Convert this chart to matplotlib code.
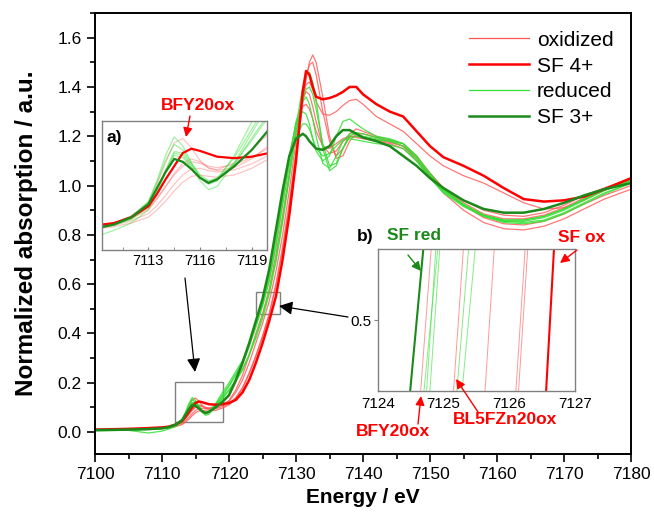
import matplotlib
matplotlib.use("Agg")
import matplotlib.pyplot as plt
from matplotlib.ticker import MultipleLocator, FormatStrFormatter
from matplotlib.patches import Rectangle, FancyArrowPatch

plt.rcParams['font.family'] = ['Liberation Sans', 'DejaVu Sans']

# ---------------- data ----------------
energy = [7100, 7105, 7108, 7110, 7111, 7112,
          7113, 7113.5, 7114, 7114.5, 7115, 7115.5, 7116, 7116.5, 7117,
          7118, 7119, 7120,
          7121, 7122, 7123, 7124, 7125, 7126, 7127, 7128, 7129, 7130, 7131,
          7131.5, 7132, 7132.5, 7133,
          7134, 7135, 7136, 7137, 7138, 7139, 7140,
          7142, 7144, 7146, 7148, 7150, 7152,
          7155, 7158, 7161, 7164, 7167, 7170, 7173, 7176, 7180]

sf3 = [0.008, 0.010, 0.012, 0.015, 0.020, 0.030,
       0.048, 0.070, 0.092, 0.110, 0.106, 0.096, 0.084, 0.077, 0.082,
       0.100, 0.122, 0.150,
       0.21, 0.28, 0.36, 0.45, 0.54, 0.66, 0.82, 0.98, 1.12, 1.19, 1.21,
       1.20, 1.18, 1.165, 1.15,
       1.145, 1.16, 1.20, 1.225, 1.225, 1.21, 1.195,
       1.18, 1.16, 1.12, 1.08, 1.03, 0.99,
       0.94, 0.905, 0.89, 0.89, 0.905, 0.93, 0.96, 0.985, 1.01]

sf4 = [0.010, 0.013, 0.016, 0.019, 0.022, 0.030,
       0.045, 0.062, 0.082, 0.100, 0.118, 0.124, 0.121, 0.117, 0.113,
       0.111, 0.113, 0.118,
       0.13, 0.16, 0.21, 0.28, 0.36, 0.45, 0.55, 0.70, 0.88, 1.10, 1.38,
       1.465, 1.45, 1.40, 1.36,
       1.35, 1.355, 1.365, 1.38, 1.40, 1.40, 1.37,
       1.33, 1.30, 1.28, 1.22, 1.16, 1.115,
       1.08, 1.04, 0.99, 0.945, 0.935, 0.94, 0.955, 0.985, 1.03]

ox1 = [0.010, 0.012, 0.015, 0.018, 0.022, 0.032,
       0.050, 0.075, 0.105, 0.132, 0.138, 0.125, 0.108, 0.097, 0.095,
       0.105, 0.122, 0.145,
       0.20, 0.27, 0.35, 0.44, 0.53, 0.65, 0.80, 0.96, 1.12, 1.25, 1.32,
       1.33, 1.31, 1.27, 1.22,
       1.16, 1.15, 1.17, 1.19, 1.20, 1.195, 1.19,
       1.18, 1.17, 1.15, 1.10, 1.04, 0.99,
       0.94, 0.90, 0.88, 0.875, 0.89, 0.92, 0.96, 0.99, 1.03]

ox2 = [0.008, 0.011, 0.014, 0.017, 0.021, 0.028,
       0.040, 0.055, 0.072, 0.090, 0.104, 0.110, 0.106, 0.098, 0.094,
       0.098, 0.110, 0.128,
       0.17, 0.23, 0.31, 0.40, 0.48, 0.58, 0.72, 0.88, 1.05, 1.22, 1.35,
       1.38, 1.37, 1.32, 1.26,
       1.16, 1.13, 1.14, 1.18, 1.20, 1.20, 1.195,
       1.185, 1.175, 1.16, 1.11, 1.05, 0.99,
       0.93, 0.885, 0.865, 0.865, 0.88, 0.91, 0.95, 0.985, 1.02]

ox3 = [0.009, 0.012, 0.015, 0.018, 0.022, 0.030,
       0.042, 0.056, 0.072, 0.088, 0.100, 0.106, 0.104, 0.100, 0.098,
       0.102, 0.112, 0.125,
       0.16, 0.21, 0.28, 0.36, 0.44, 0.53, 0.65, 0.80, 0.98, 1.18, 1.36,
       1.41, 1.42, 1.39, 1.34,
       1.29, 1.285, 1.30, 1.325, 1.345, 1.35, 1.33,
       1.28, 1.25, 1.22, 1.17, 1.12, 1.08,
       1.04, 1.01, 0.97, 0.93, 0.905, 0.91, 0.94, 0.98, 1.02]

ox4 = [0.008, 0.010, 0.013, 0.016, 0.019, 0.025,
       0.035, 0.046, 0.060, 0.075, 0.088, 0.096, 0.097, 0.094, 0.092,
       0.095, 0.103, 0.115,
       0.14, 0.18, 0.24, 0.31, 0.39, 0.48, 0.60, 0.75, 0.93, 1.14, 1.35,
       1.44, 1.49, 1.50, 1.45,
       1.30, 1.18, 1.12, 1.15, 1.21, 1.23, 1.22,
       1.20, 1.185, 1.17, 1.12, 1.05, 0.99,
       0.92, 0.87, 0.845, 0.84, 0.855, 0.885, 0.925, 0.96, 1.00]

ox5 = [0.007, 0.009, 0.012, 0.014, 0.017, 0.022,
       0.030, 0.040, 0.052, 0.066, 0.078, 0.086, 0.088, 0.086, 0.085,
       0.088, 0.097, 0.110,
       0.135, 0.175, 0.235, 0.305, 0.385, 0.475, 0.59, 0.74, 0.92, 1.12, 1.33,
       1.43, 1.50, 1.53, 1.50,
       1.36, 1.20, 1.11, 1.12, 1.18, 1.21, 1.21,
       1.195, 1.18, 1.16, 1.11, 1.04, 0.97,
       0.90, 0.85, 0.825, 0.82, 0.835, 0.865, 0.905, 0.945, 0.985]

red1 = [0.006, 0.008, 0.010, 0.014, 0.019, 0.028,
        0.050, 0.080, 0.115, 0.140, 0.128, 0.105, 0.085, 0.075, 0.080,
        0.115, 0.160, 0.200,
        0.245, 0.29, 0.355, 0.435, 0.52, 0.63, 0.78, 0.95, 1.12, 1.25, 1.30,
        1.29, 1.25, 1.19, 1.14,
        1.10, 1.12, 1.20, 1.26, 1.27, 1.25, 1.23,
        1.20, 1.19, 1.17, 1.11, 1.04, 0.98,
        0.92, 0.88, 0.86, 0.86, 0.875, 0.905, 0.945, 0.98, 1.02]

red2 = [0.007, 0.009, 0.012, 0.015, 0.020, 0.030,
        0.052, 0.078, 0.108, 0.130, 0.122, 0.104, 0.088, 0.080, 0.084,
        0.112, 0.150, 0.190,
        0.235, 0.285, 0.35, 0.43, 0.515, 0.62, 0.76, 0.93, 1.10, 1.26, 1.34,
        1.36, 1.33, 1.27, 1.20,
        1.09, 1.07, 1.12, 1.18, 1.21, 1.21, 1.20,
        1.19, 1.18, 1.16, 1.10, 1.03, 0.97,
        0.915, 0.875, 0.855, 0.855, 0.87, 0.90, 0.94, 0.98, 1.02]

red3 = [0.005, 0.007, -0.004, 0.004, 0.012, 0.022,
        0.040, 0.062, 0.092, 0.118, 0.115, 0.100, 0.080, 0.068, 0.072,
        0.105, 0.145, 0.185,
        0.23, 0.28, 0.345, 0.425, 0.51, 0.61, 0.75, 0.92, 1.08, 1.20, 1.25,
        1.25, 1.23, 1.19, 1.15,
        1.12, 1.13, 1.16, 1.185, 1.19, 1.185, 1.18,
        1.17, 1.165, 1.15, 1.10, 1.03, 0.975,
        0.92, 0.88, 0.86, 0.86, 0.875, 0.905, 0.945, 0.985, 1.025]

red4 = [0.007, 0.009, 0.012, 0.015, 0.019, 0.027,
        0.045, 0.068, 0.095, 0.120, 0.118, 0.102, 0.086, 0.078, 0.080,
        0.103, 0.138, 0.172,
        0.21, 0.255, 0.315, 0.39, 0.47, 0.57, 0.70, 0.86, 1.04, 1.24, 1.40,
        1.45, 1.46, 1.42, 1.35,
        1.15, 1.06, 1.08, 1.15, 1.195, 1.20, 1.195,
        1.185, 1.18, 1.17, 1.12, 1.05, 0.985,
        0.925, 0.88, 0.855, 0.85, 0.86, 0.89, 0.93, 0.97, 1.01]

red5 = [0.008, 0.010, 0.013, 0.016, 0.020, 0.028,
        0.044, 0.066, 0.094, 0.115, 0.112, 0.098, 0.084, 0.079, 0.083,
        0.104, 0.135, 0.168,
        0.205, 0.25, 0.31, 0.38, 0.46, 0.56, 0.69, 0.85, 1.03, 1.21, 1.35,
        1.39, 1.40, 1.37, 1.31,
        1.17, 1.08, 1.09, 1.15, 1.20, 1.215, 1.21,
        1.195, 1.185, 1.17, 1.12, 1.045, 0.98,
        0.92, 0.875, 0.85, 0.845, 0.855, 0.885, 0.925, 0.965, 1.01]

oxidized = [ox1, ox2, ox3, ox4, ox5]
reduced = [red1, red2, red3, red4, red5]

# inset b: edge position (eV) at the bottom and top of the zoomed window
b_y = [0.492, 0.508]
b_sf3 = [7124.49, 7124.69]
b_sf4 = [7126.56, 7126.68]
b_ox = [[7124.65, 7124.81], [7125.15, 7125.30], [7125.63, 7125.77],
        [7126.10, 7126.24], [7126.14, 7126.28]]
b_red = [[7124.70, 7124.91], [7124.74, 7124.88], [7124.79, 7124.94],
         [7125.20, 7125.38], [7125.28, 7125.48]]

legend_labels = ['oxidized', 'SF 4+', 'reduced', 'SF 3+']

# ---------------- style ----------------
c_ox = '#ff5555'
c_sf4 = '#ff0000'
c_red = '#33e033'
c_sf3 = '#1b8a1b'
grey = '#808080'

W, H = 654, 512
fig = plt.figure(figsize=(W / 100, H / 100), dpi=100)


def fx(px):
    return px / W


def fy(py):
    return 1 - py / H


ax = fig.add_axes([fx(95), fy(454), fx(631) - fx(95), fy(13) - fy(454)])

h = {}
for s in oxidized:
    l, = ax.plot(energy, s, color=c_ox, lw=0.9, alpha=0.8)
    h.setdefault('ox', l)
for s in reduced:
    l, = ax.plot(energy, s, color=c_red, lw=0.9, alpha=0.85)
    h.setdefault('red', l)
h['sf4'], = ax.plot(energy, sf4, color=c_sf4, lw=1.8)
h['sf3'], = ax.plot(energy, sf3, color=c_sf3, lw=1.8)

ax.set_xlim(7100, 7180)
ax.set_ylim(-0.089, 1.70)
ax.xaxis.set_major_locator(MultipleLocator(10))
ax.xaxis.set_minor_locator(MultipleLocator(5))
ax.yaxis.set_major_locator(MultipleLocator(0.2))
ax.yaxis.set_minor_locator(MultipleLocator(0.1))
ax.yaxis.set_major_formatter(FormatStrFormatter('%.1f'))
ax.tick_params(which='both', direction='out', top=False, right=False,
               labelsize=12.5, width=1.2)
ax.tick_params(which='major', length=6)
ax.tick_params(which='minor', length=3.5)
for sp in ax.spines.values():
    sp.set_linewidth(1.4)
ax.set_xlabel('Energy / eV', fontsize=15, fontweight='bold', labelpad=4)
ax.set_ylabel('Normalized absorption / a.u.', fontsize=17.5, fontweight='bold',
              labelpad=14)

leg = ax.legend([h['ox'], h['sf4'], h['red'], h['sf3']], legend_labels,
                loc='upper right', bbox_to_anchor=(1.0, 1.0), frameon=False,
                fontsize=15, handlelength=2.9, handletextpad=0.35,
                labelspacing=0.33, borderaxespad=0.45)
for lh in leg.get_lines():
    lh.set_alpha(1)

# zoom boxes in main axes
ax.add_patch(Rectangle((7112, 0.04), 7.1, 0.163, fill=False, ec=grey, lw=1.0))
ax.add_patch(Rectangle((7124, 0.48), 3.6, 0.087, fill=False, ec=grey, lw=1.0))

# ---------------- inset a ----------------
axa = fig.add_axes([fx(102), fy(250), fx(267) - fx(102), fy(121) - fy(250)])
for s in oxidized:
    axa.plot(energy, s, color=c_ox, lw=0.9, alpha=0.35)
for s in reduced:
    axa.plot(energy, s, color=c_red, lw=0.9, alpha=0.45)
axa.plot(energy, sf4, color=c_sf4, lw=1.6)
axa.plot(energy, sf3, color=c_sf3, lw=1.6)
axa.set_xlim(7110.3, 7119.9)
axa.set_ylim(-0.015, 0.162)
axa.xaxis.set_major_locator(MultipleLocator(3))
axa.xaxis.set_minor_locator(MultipleLocator(1.5))
axa.set_yticks([])
axa.tick_params(which='both', direction='in', labelsize=10.5, length=2,
                color=grey, pad=3)
for sp in axa.spines.values():
    sp.set_color(grey)
    sp.set_linewidth(1.0)
axa.text(0.03, 0.93, 'a)', transform=axa.transAxes, fontsize=12.5,
         fontweight='bold', va='top', ha='left')

# ---------------- inset b ----------------
axb = fig.add_axes([fx(378), fy(391), fx(575) - fx(378), fy(249) - fy(391)])
for s in b_ox:
    axb.plot(s, b_y, color=c_ox, lw=0.7, alpha=0.6)
for s in b_red:
    axb.plot(s, b_y, color=c_red, lw=0.7, alpha=0.6)
axb.plot(b_sf4, b_y, color=c_sf4, lw=1.5)
axb.plot(b_sf3, b_y, color=c_sf3, lw=1.5)
axb.set_xlim(7124, 7127)
axb.set_ylim(b_y[0], b_y[1])
axb.set_xticks([7124, 7125, 7126, 7127])
axb.set_yticks([0.5])
axb.yaxis.set_major_formatter(FormatStrFormatter('%.1f'))
axb.tick_params(axis='x', direction='in', length=0, labelsize=11, pad=4)
axb.tick_params(axis='y', direction='out', length=3, labelsize=11, pad=2,
                color=grey)
for sp in axb.spines.values():
    sp.set_color(grey)
    sp.set_linewidth(1.0)

# ---------------- annotations (figure pixel coords) ----------------
def P(px, py):
    return (fx(px), fy(py))


bold = dict(fontweight='bold', fontsize=12.5, ha='center', va='center')
fig.text(*P(198, 105), 'BFY20ox', color=c_sf4, **bold)
fig.text(*P(365, 237), 'b)', color='black', **bold)
fig.text(*P(414, 236), 'SF red', color=c_sf3, **bold)
fig.text(*P(582, 237), 'SF ox', color=c_sf4, **bold)
fig.text(*P(393, 432), 'BFY20ox', color=c_sf4, **bold)
fig.text(*P(505, 419), 'BL5FZn20ox', color=c_sf4, **bold)


def arrow(p0, p1, color, lw=1.0, hw=6):
    fig.add_artist(FancyArrowPatch(
        P(*p0), P(*p1), transform=fig.transFigure,
        arrowstyle='-|>,head_length=%g,head_width=%g' % (hw * 0.9, hw * 0.45),
        color=color, lw=lw, shrinkA=0, shrinkB=0, mutation_scale=1))


arrow((190, 116), (186, 137), c_sf4)
arrow((408, 255), (421, 271), c_sf3)
arrow((577, 250), (560, 263), c_sf4)
arrow((418, 424), (421, 396), c_sf4)
arrow((478, 412), (456, 379), c_sf4)
arrow((185, 278), (195, 372), 'black', lw=0.9, hw=9)
arrow((348, 317), (279, 306), 'black', lw=0.9, hw=9)

fig.savefig('out.png', dpi=100)
